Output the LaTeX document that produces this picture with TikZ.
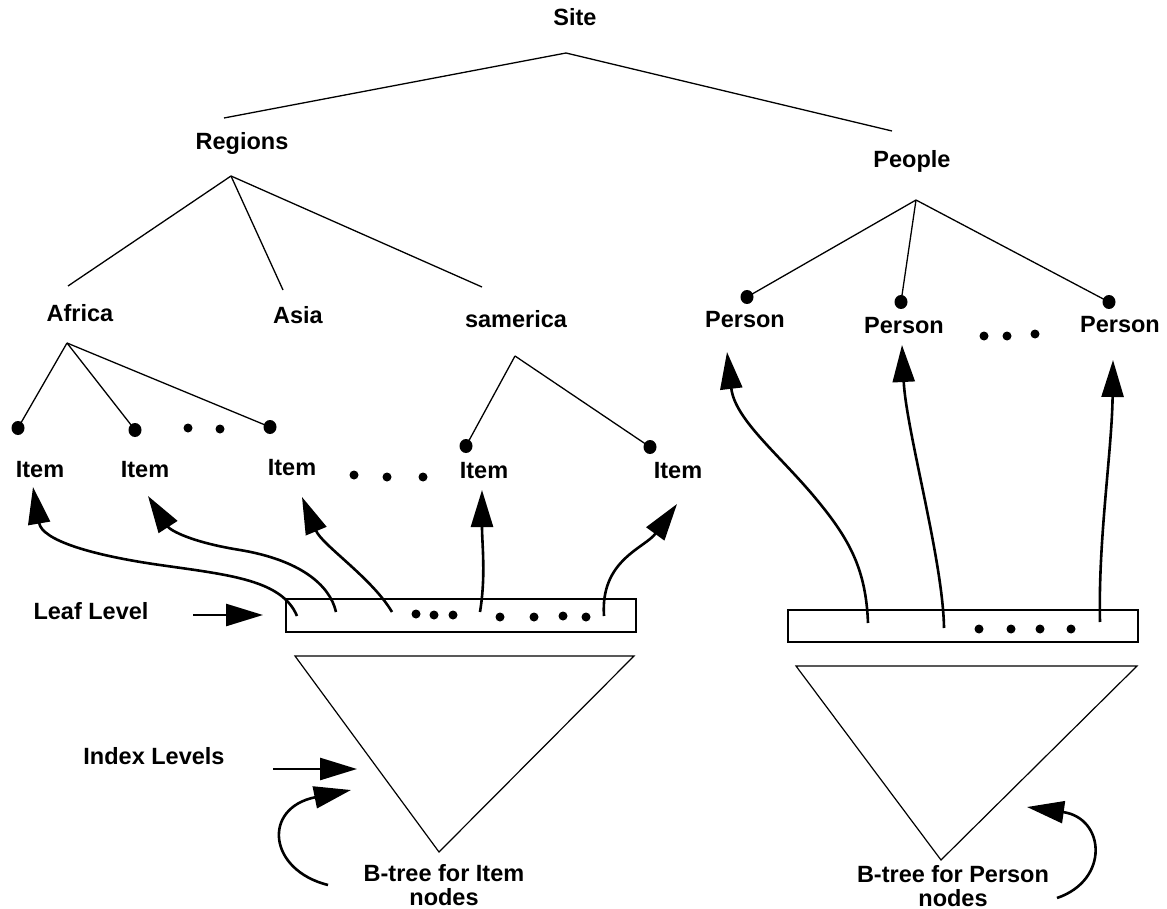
\documentclass[tikz,border=0pt]{standalone}
\usepackage{fontspec}
\setmainfont{Liberation Sans}
\usetikzlibrary{arrows.meta,shapes.geometric}
\begin{document}
\begin{tikzpicture}[x=1pt,y=-1pt,
  lbl/.style={font=\fontsize{23.5}{24}\selectfont\bfseries, inner sep=0pt, align=center},
  edge/.style={line width=1.3pt},
  bigarrow/.style={line width=2.6pt, -{Triangle[length=37pt,width=22pt]}},
  nodedot/.style={fill, ellipse, minimum width=13pt, minimum height=14pt, inner sep=0pt},
  smalldot/.style={fill, circle, minimum size=9pt, inner sep=0pt},
  frame/.style={line width=2pt},
  tri/.style={line width=1.2pt}]
\useasboundingbox (0,0) rectangle (1167,909);

% text labels
\node[lbl] (site) at (575,17) {Site};
\node[lbl] (regions) at (242,143) {Regions};
\node[lbl] (people) at (912,161) {People};
\node[lbl] (africa) at (80,313) {Africa};
\node[lbl] (asia) at (298,315) {Asia};
\node[lbl] (samerica) at (516,319) {samerica};
\node[lbl] (i1) at (40,470) {Item};
\node[lbl] (i2) at (145,470) {Item};
\node[lbl] (i3) at (292,468) {Item};
\node[lbl] (i4) at (484,471) {Item};
\node[lbl] (i5) at (678,471) {Item};
\node[lbl] (p1) at (745,320) {Person};
\node[lbl] (p2) at (904,326) {Person};
\node[lbl] (p3) at (1120,325) {Person};
\node[lbl] (leaf) at (91,611) {Leaf Level};
\node[lbl] (index) at (154,756) {Index Levels};
\node[lbl] (bti) at (444,885) {B-tree for Item\\nodes};
\node[lbl] (btp) at (953,886) {B-tree for Person\\nodes};

% branch points of the tree
\coordinate (site-b) at (566,53);
\coordinate (reg-l) at (224,118);
\coordinate (peo-r) at (892,131);
\coordinate (reg-b) at (231,176);
\coordinate (afr-t) at (68,286);
\coordinate (asi-t) at (283,290);
\coordinate (sam-t) at (482,287);
\coordinate (afr-b) at (67,343);
\coordinate (sam-b) at (515,356);
\coordinate (peo-b) at (916,200);

% element dots
\node[nodedot] (d1) at (18,428) {};
\node[nodedot] (d2) at (135,430) {};
\node[nodedot] (d3) at (270,427) {};
\node[nodedot] (d4) at (466,446) {};
\node[nodedot] (d5) at (650,447) {};
\node[nodedot] (e1) at (747,297) {};
\node[nodedot] (e2) at (901,302) {};
\node[nodedot] (e3) at (1109,302) {};

% tree edges
\draw[edge] (reg-l) -- (site-b) -- (peo-r);
\draw[edge] (reg-b) -- (afr-t);
\draw[edge] (reg-b) -- (asi-t);
\draw[edge] (reg-b) -- (sam-t);
\draw[edge] (afr-b) -- (d1.center);
\draw[edge] (afr-b) -- (d2.center);
\draw[edge] (afr-b) -- (d3.center);
\draw[edge] (sam-b) -- (d4.center);
\draw[edge] (sam-b) -- (d5.center);
\draw[edge] (peo-b) -- (e1.center);
\draw[edge] (peo-b) -- (e2.center);
\draw[edge] (peo-b) -- (e3.center);

% ellipsis dots
\foreach \x/\y in {188/428, 220/429, 354/475, 387/477, 423/477, 984/336, 1007/336, 1035/334}
  \node[smalldot] at (\x,\y) {};

% leaf level boxes
\node[frame, draw, minimum width=350pt, minimum height=33pt, inner sep=0pt] (lbox) at (461,615.5) {};
\node[frame, draw, minimum width=350pt, minimum height=32pt, inner sep=0pt] (rbox) at (963,626) {};
\foreach \x/\y in {416/614, 434/615, 453/615, 500/617, 534/617, 563/616, 586/617}
  \node[smalldot] at (\x,\y) {};
\foreach \x/\y in {979/629, 1011/629, 1040/629, 1071/629}
  \node[smalldot] at (\x,\y) {};

% index triangles
\coordinate (tl1) at (295,656);
\coordinate (tl2) at (634,656);
\coordinate (tl3) at (439,852);
\coordinate (tr1) at (796,666);
\coordinate (tr2) at (1137,666);
\coordinate (tr3) at (941,860);
\draw[tri] (tl1) -- (tl2) -- (tl3) -- cycle;
\draw[tri] (tr1) -- (tr2) -- (tr3) -- cycle;

% pointers from leaf entries to elements
\coordinate (a1) at (297,616);
\coordinate (a2) at (336,612);
\coordinate (a3) at (392,612);
\coordinate (a4) at (480,612);
\coordinate (a5) at (604,616);
\coordinate (b1) at (868,623);
\coordinate (b2) at (944,628);
\coordinate (b3) at (1100,622);
\coordinate (t1) at (33,487);
\coordinate (t2) at (148,496);
\coordinate (t3) at (302,497);
\coordinate (t4) at (482,490);
\coordinate (t5) at (677,504);
\coordinate (u1) at (727,352);
\coordinate (u2) at (902,345);
\coordinate (u3) at (1113,360);
\draw[bigarrow] (a1) .. controls (282,580) and (230,575) .. (160,565)
                     .. controls (90,555) and (42,540) .. (t1);
\draw[bigarrow] (a2) .. controls (330,585) and (300,560) .. (240,550)
                     .. controls (190,542) and (170,530) .. (t2);
\draw[bigarrow] (a3) .. controls (372,578) and (322,545) .. (t3);
\draw[bigarrow] (a4) .. controls (486,575) and (482,545) .. (t4);
\draw[bigarrow] (a5) .. controls (600,560) and (645,548) .. (t5);
\draw[bigarrow] (b1) .. controls (866,570) and (850,540) .. (817,500)
                     .. controls (780,455) and (735,420) .. (u1);
\draw[bigarrow] (b2) .. controls (943,560) and (906,430) .. (u2);
\draw[bigarrow] (b3) .. controls (1098,540) and (1112,450) .. (u3);

% level markers
\coordinate (leaf-a) at (193,615);
\coordinate (leaf-b) at (263,615);
\coordinate (idx-a) at (273,769);
\coordinate (idx-b) at (357,769);
\draw[bigarrow] (leaf-a) -- (leaf-b);
\draw[bigarrow] (idx-a) -- (idx-b);

% root pointers
\coordinate (rl-a) at (328,885);
\coordinate (rl-b) at (351,790);
\coordinate (rr-a) at (1057,898);
\coordinate (rr-b) at (1027,807);
\draw[bigarrow] (rl-a) .. controls (268,870) and (262,808) .. (rl-b);
\draw[bigarrow] (rr-a) .. controls (1110,880) and (1105,818) .. (rr-b);
\end{tikzpicture}
\end{document}
